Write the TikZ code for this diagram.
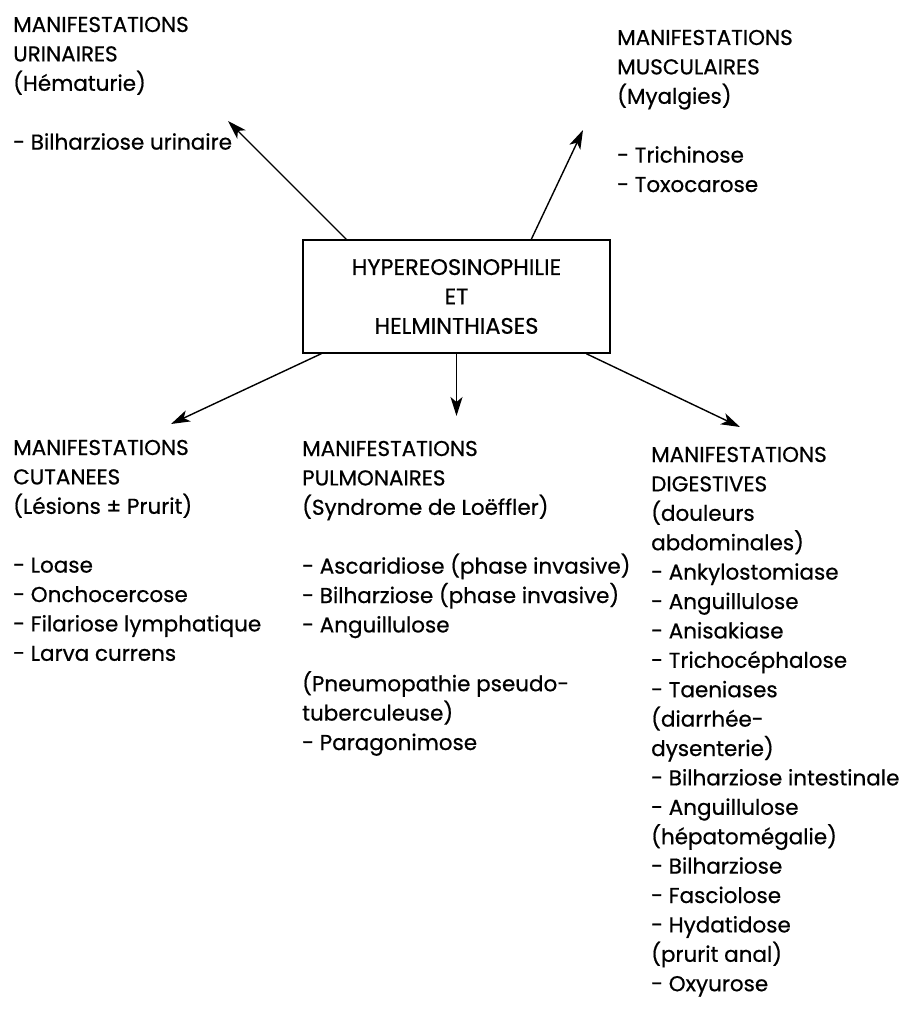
\documentclass[tikz,border=0pt]{standalone}
\usepackage{fontspec}
\setmainfont{Poppins}[FakeBold=0.6]
\usetikzlibrary{arrows.meta,calc}
\newcommand\leftlines[1]{\vtop{\halign{##\hfil\cr#1\crcr}}}
\newcommand\centerlines[1]{\vtop{\halign{\hfil##\hfil\cr#1\crcr}}}
\tikzset{
  txt/.style={inner sep=0pt, anchor=base west, font=\fontsize{21.5}{29.4}\selectfont},
  mainbox/.style={draw, line width=1.4pt, minimum width=307pt, minimum height=113pt, inner sep=0pt, font=\fontsize{22.5}{29.4}\selectfont},
  arr/.style={line width=1.4pt, -{Stealth[length=19pt,width=12pt,inset=5pt]}}
}
\begin{document}
\begin{tikzpicture}[x=1pt,y=-1pt]
\useasboundingbox (0,0) rectangle (906,1011);
\node[mainbox] (box) at (456.5,296.5) {\centerlines{HYPEREOSINOPHILIE\cr ET\cr HELMINTHIASES}};

\node[txt] (uri) at (13,32) {\leftlines{MANIFESTATIONS\cr URINAIRES\cr (Hématurie)\cr\cr - Bilharziose urinaire}};
\node[txt] (mus) at (617,45) {\leftlines{MANIFESTATIONS\cr MUSCULAIRES\cr (Myalgies)\cr\cr - Trichinose\cr - Toxocarose}};
\node[txt] (cut) at (13,455) {\leftlines{MANIFESTATIONS\cr CUTANEES\cr (Lésions ± Prurit)\cr\cr - Loase\cr - Onchocercose\cr - Filariose lymphatique\cr - Larva currens}};
\node[txt] (pul) at (302,456) {\leftlines{MANIFESTATIONS\cr PULMONAIRES\cr (Syndrome de Loëffler)\cr\cr - Ascaridiose (phase invasive)\cr - Bilharziose (phase invasive)\cr - Anguillulose\cr\cr (Pneumopathie pseudo-\cr tuberculeuse)\cr - Paragonimose}};
\node[txt] (dig) at (651,462) {\leftlines{MANIFESTATIONS\cr DIGESTIVES\cr (douleurs\cr abdominales)\cr - Ankylostomiase\cr - Anguillulose\cr - Anisakiase\cr - Trichocéphalose\cr - Taeniases\cr (diarrhée-\cr dysenterie)\cr - Bilharziose intestinale\cr - Anguillulose\cr (hépatomégalie)\cr - Bilharziose\cr - Fasciolose\cr - Hydatidose\cr (prurit anal)\cr - Oxyurose}};

\coordinate (tUri) at (228,121);
\coordinate (tMus) at (583,130);
\coordinate (tPul) at (456.5,416);
\coordinate (tCut) at (171,424);
\coordinate (tDig) at (740,427);
\draw[arr] ($(box.north west)+(44,0)$) -- (tUri);
\draw[arr] ($(box.north west)+(229,0)$) -- (tMus);
\draw[arr] (box.south) -- (tPul);
\draw[arr] ($(box.south west)+(19,0)$) -- (tCut);
\draw[arr] ($(box.south west)+(284,0)$) -- (tDig);
\end{tikzpicture}
\end{document}
